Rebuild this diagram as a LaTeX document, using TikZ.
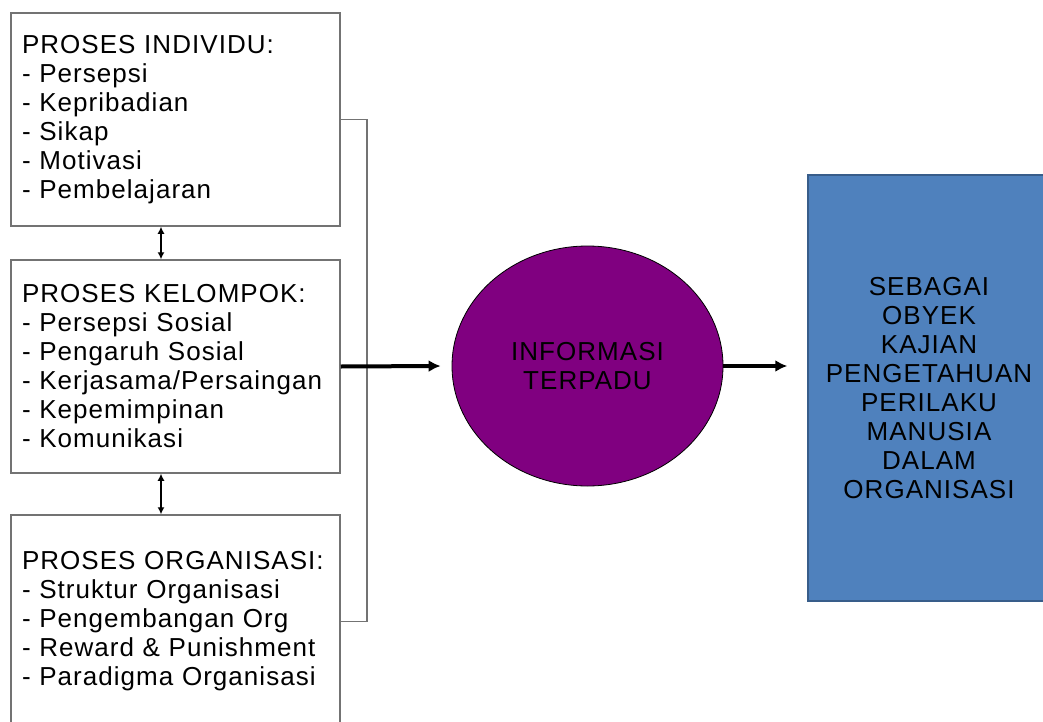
\documentclass[tikz,border=0pt]{standalone}
\usepackage{fontspec}
\setmainfont[LetterSpace=4]{Liberation Sans}
\usepackage{tikz}
\usetikzlibrary{arrows.meta}
\usetikzlibrary{shapes.geometric}
\tikzset{>={Latex[length=3.5pt,width=3.5pt]}}
\definecolor{ungu}{HTML}{800080}
\definecolor{biru}{HTML}{4F81BD}
\definecolor{birutua}{HTML}{385D8A}
\tikzset{
  teks/.style={font=\fontsize{13}{14.5}\selectfont},
  proses/.style={teks, draw=black!55, line width=0.75pt, minimum width=164.5pt,
    minimum height=106.5pt, text width=153.5pt, inner xsep=5.5pt, align=left},
  garis/.style={draw=black!55, line width=0.75pt},
  panah/.style={-{Latex[length=6pt,width=6pt]}, line width=2pt},
}

\begin{document}
\begin{tikzpicture}[x=0.5pt,y=-0.5pt]
\useasboundingbox (0,0) rectangle (1043,722);
\clip (0,0) rectangle (1043,722);
    %process boxes
    \node[proses] (ind) at (175.5,119.5) {PROSES INDIVIDU:\\- Persepsi\\- Kepribadian\\- Sikap\\- Motivasi\\- Pembelajaran};
    \node[proses] (kel) at (175.5,366.5) {PROSES KELOMPOK:\\- Persepsi Sosial\\- Pengaruh Sosial\\- Kerjasama/Persaingan\\- Kepemimpinan\\- Komunikasi};
    \node[proses] (org) at (175.5,621.5) {PROSES ORGANISASI:\\- Struktur Organisasi\\- Pengembangan Org\\- Reward \& Punishment\\- Paradigma Organisasi};
    %circle and target
    \node[teks, ellipse, draw=black, fill=ungu, minimum width=135.5pt, minimum height=120pt,
      inner sep=0pt, align=center] (info) at (587.5,366) {INFORMASI\\TERPADU};
    \node[teks, draw=birutua, line width=0.75pt, fill=biru, minimum width=121pt, minimum height=213pt,
      align=center] (obj) at (929,388) {SEBAGAI\\OBYEK\\KAJIAN\\PENGETAHUAN\\PERILAKU\\MANUSIA\\DALAM\\ORGANISASI};
    %links between boxes
    \coordinate (sumbu) at (161,0);
    \coordinate (brk) at (367,0);
    \draw[<->, line width=0.6pt] (ind.south -| sumbu) -- (kel.north -| sumbu);
    \draw[<->, line width=0.6pt] (kel.south -| sumbu) -- (org.north -| sumbu);
    \draw[garis] (ind.east) -| (brk |- org.east) -- (org.east);
    %main arrows
    \draw[panah] (kel.east) -- ([xshift=-5.5pt]info.west);
    \draw[panah] (info.east) -- ([xshift=-10pt]obj.west |- info.east);
\end{tikzpicture}
\end{document}
